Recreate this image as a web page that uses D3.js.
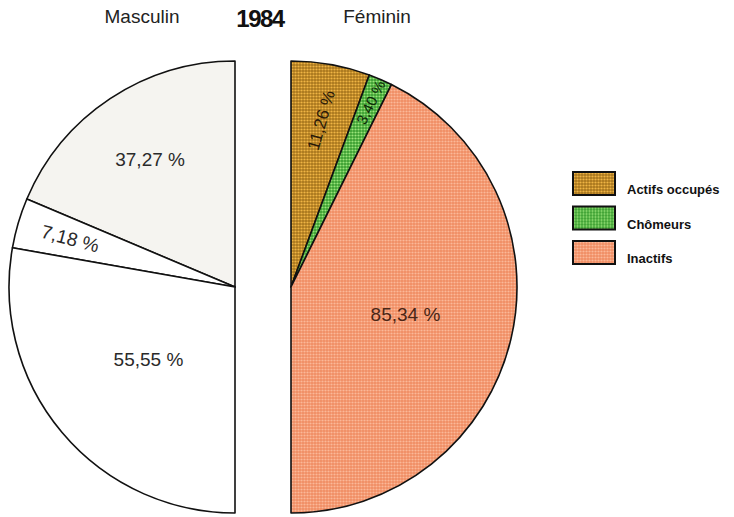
<!DOCTYPE html>
<html>
<head>
<meta charset="utf-8">
<script src="https://cdn.jsdelivr.net/npm/d3@7"></script>
<style>
    body { margin: 0; background: #fff; }
    svg { display: block; }
    text { font-family: "Liberation Sans", Arial, sans-serif; }
</style>
</head>
<body>
<div id="chart"></div>
<script>
// values (percent of each half)
var year = "1984";
var sexes = ["Masculin", "Féminin"];
var categories = ["Actifs occupés", "Chômeurs", "Inactifs"];
var maleValues = [37.27, 7.18, 55.55];
var femaleValues = [11.26, 3.40, 85.34];
var maleLabels = ["37,27 %", "7,18 %", "55,55 %"];
var femaleLabels = ["11,26 %", "3,40 %", "85,34 %"];

var width = 734, height = 517;
var R = 226;

var svg = d3.select("#chart").append("svg")
    .attr("width", width)
    .attr("height", height);

// dotted textures for the colored slices
var defs = svg.append("defs");
function dotPattern(id, base, dot) {
    var p = defs.append("pattern")
        .attr("id", id)
        .attr("patternUnits", "userSpaceOnUse")
        .attr("width", 3).attr("height", 3);
    p.append("rect").attr("width", 3).attr("height", 3).attr("fill", base);
    p.append("circle").attr("cx", 1.5).attr("cy", 1.5).attr("r", 1.1).attr("fill", dot);
}
dotPattern("pActif", "#a8751c", "#efb444");
dotPattern("pChom", "#3a9e30", "#9ae47a");
dotPattern("pInact", "#f08c62", "#fbb898");

var maleFill = ["#f5f4f0", "#ffffff", "#ffffff"];
var femaleFill = ["url(#pActif)", "url(#pChom)", "url(#pInact)"];
var femaleText = ["#2a1a08", "#0e2a08", "#4a2616"];

var arc = d3.arc().innerRadius(0).outerRadius(R);

//draws one half pie, dir = -1 goes left, 1 goes right
function halfPie(cx, cy, values, dir, fills, labels, labelR, labelRot, labelSize, textFill) {
    var g = svg.append("g").attr("transform", "translate(" + cx + "," + cy + ")");

    var slices = d3.pie().sort(null)
        .startAngle(0)
        .endAngle(dir * Math.PI)(values);

    g.selectAll("path.slice")
        .data(slices)
        .enter().append("path")
        .attr("class", "slice")
        .attr("d", arc)
        .attr("fill", function (d, i) { return fills[i]; })
        .attr("stroke", "#111")
        .attr("stroke-width", 1.6)
        .attr("stroke-linejoin", "round");

    g.selectAll("text.lab")
        .data(slices)
        .enter().append("text")
        .attr("class", "lab")
        .attr("transform", function (d, i) {
            var a = (d.startAngle + d.endAngle) / 2;
            var r = R * labelR[i];
            var x = Math.sin(a) * r, y = -Math.cos(a) * r;
            return "translate(" + x + "," + y + ") rotate(" + labelRot[i] + ")";
        })
        .attr("text-anchor", "middle")
        .attr("dy", "0.36em")
        .attr("font-size", function (d, i) { return labelSize[i]; })
        .attr("fill", function (d, i) { return textFill[i]; })
        .text(function (d, i) { return labels[i]; });
}

halfPie(235, 287, maleValues, -1, maleFill, maleLabels,
    [0.68, 0.76, 0.5], [0, 15, 0], [19, 19, 19], ["#2a2a2a", "#2a2a2a", "#2a2a2a"]);
halfPie(291, 287, femaleValues, 1, femaleFill, femaleLabels,
    [0.75, 0.89, 0.52], [-74, -64, 0], [17, 15, 19], femaleText);

// titles
svg.append("text").attr("x", 142).attr("y", 23)
    .attr("text-anchor", "middle").attr("font-size", 19).attr("fill", "#222")
    .text(sexes[0]);
svg.append("text").attr("x", 260).attr("y", 27)
    .attr("text-anchor", "middle").attr("font-size", 24).attr("font-weight", "bold")
    .attr("letter-spacing", -1.5).attr("fill", "#111")
    .text(year);
svg.append("text").attr("x", 377).attr("y", 23)
    .attr("text-anchor", "middle").attr("font-size", 19).attr("fill", "#222")
    .text(sexes[1]);

// legend
var legend = svg.append("g").attr("transform", "translate(573,172)");
var item = legend.selectAll("g")
    .data(categories)
    .enter().append("g")
    .attr("transform", function (d, i) { return "translate(0," + (i * 34.5) + ")"; });

item.append("rect")
    .attr("width", 42).attr("height", 23)
    .attr("fill", function (d, i) { return femaleFill[i]; })
    .attr("stroke", "#111").attr("stroke-width", 2);

item.append("text")
    .attr("x", 54).attr("y", 22)
    .attr("font-size", 13).attr("font-weight", "bold").attr("fill", "#111")
    .text(function (d) { return d; });
</script>
</body>
</html>
